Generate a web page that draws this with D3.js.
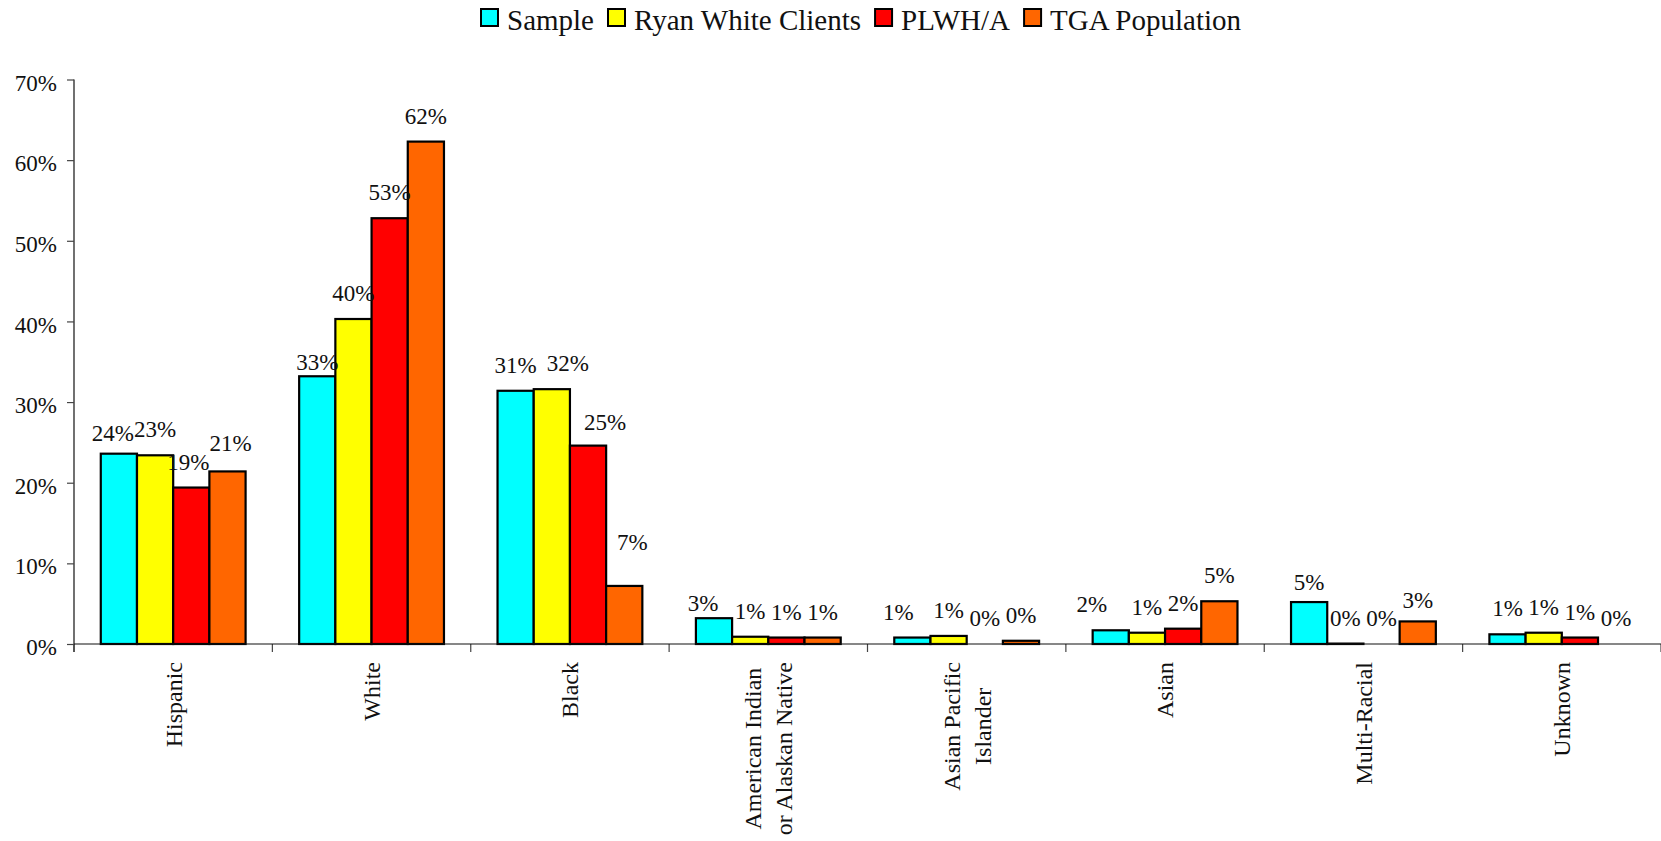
<!DOCTYPE html>
<html>
<head>
<meta charset="utf-8">
<script src="https://cdn.jsdelivr.net/npm/d3@7"></script>
<style>
  html, body { margin: 0; padding: 0; background: #fff; }
  svg, svg text { font-family: "Liberation Serif", "Times New Roman", Tinos, "DejaVu Serif", "Noto Serif", serif; }
</style>
</head>
<body>
<svg id="chart" width="1661" height="841"></svg>
<script>
// Race / ethnicity categories (line breaks mark wrapped axis labels)
const categories = [
  "Hispanic",
  "White",
  "Black",
  "American Indian\nor Alaskan Native",
  "Asian Pacific\nIslander",
  "Asian",
  "Multi-Racial",
  "Unknown"
];

// Share of each group, in percent
const sample        = [23.6, 33.2, 31.4, 3.2, 0.8, 1.7, 5.2, 1.2];
const ryanWhite     = [23.4, 40.3, 31.6, 0.9, 1.0, 1.4, 0.05, 1.4];
const plwha         = [19.4, 52.8, 24.6, 0.8, 0.0, 1.9, 0.0, 0.8];
const tgaPopulation = [21.4, 62.3, 7.2, 0.8, 0.4, 5.3, 2.8, 0.0];

const seriesNames = ["Sample", "Ryan White Clients", "PLWH/A", "TGA Population"];
const seriesColors = ["#00FFFF", "#FFFF00", "#FF0000", "#FF6600"];
const yTicks = [0, 10, 20, 30, 40, 50, 60, 70];

const seriesValues = [sample, ryanWhite, plwha, tgaPopulation];

const FONT = "'Liberation Serif', 'Times New Roman', Tinos, 'DejaVu Serif', 'Noto Serif', serif";

// Hand placement of a few crowded value labels: [dx, dy] from the default spot
const labelShift = {
  "0|0": [-6, 5], "0|2": [-3, 0], "0|3": [3, -2],
  "1|0": [0, 12],
  "2|1": [16, 0], "2|2": [17, 2], "2|3": [8, -18],
  "3|0": [-11, 11],
  "4|0": [-14, 0],
  "5|0": [-19, 0],
  "6|0": [0, 6], "6|3": [0, 5]
};

const svg = d3.select("#chart").attr("font-family", FONT);
const plot = { left: 74, right: 1661, top: 79.5, bottom: 644 };

const x0 = d3.scaleBand()
  .domain(categories)
  .range([plot.left, plot.right])
  .paddingInner(0.27)
  .paddingOuter(0.135);

const x1 = d3.scaleBand()
  .domain(seriesNames)
  .range([0, x0.bandwidth()]);

const y = d3.scaleLinear()
  .domain([0, 70])
  .range([plot.bottom, plot.top]);

const pct = d3.format(".0f");

// Y axis
const yAxis = svg.append("g")
  .attr("transform", `translate(${plot.left},0)`)
  .call(d3.axisLeft(y).tickValues(yTicks).tickSize(7).tickPadding(10).tickFormat(d => d + "%"));
yAxis.attr("font-family", FONT);
yAxis.select(".domain").attr("stroke", "#111").attr("stroke-width", 1.2).attr("d", `M0,${plot.top}V${plot.bottom + 8}`);
yAxis.selectAll(".tick line").attr("stroke", "#444").attr("stroke-width", 1.2);
yAxis.selectAll(".tick text")
  .attr("font-size", 23)
  .attr("fill", "#111")
  .attr("dy", "0.46em");

// Ticks on the category axis at group boundaries
const step = x0.step();
const boundaries = d3.range(categories.length + 1).map(i => plot.left + i * step);
svg.append("g").selectAll("line")
  .data(boundaries)
  .join("line")
  .attr("x1", d => d).attr("x2", d => d)
  .attr("y1", plot.bottom).attr("y2", plot.bottom + 8)
  .attr("stroke", "#444").attr("stroke-width", 1.2);

// Bars
const groups = svg.append("g").selectAll("g")
  .data(categories)
  .join("g")
  .attr("transform", d => `translate(${x0(d)},0)`);

const cells = (c, ci) => seriesNames.map((s, si) => ({ s, si, ci, v: seriesValues[si][ci] }));

groups.selectAll("rect")
  .data((c, ci) => cells(c, ci).filter(d => d.v > 0))
  .join("rect")
  .attr("x", d => x1(d.s))
  .attr("y", d => y(d.v))
  .attr("width", x1.bandwidth())
  .attr("height", d => y(0) - y(d.v))
  .attr("fill", d => seriesColors[d.si])
  .attr("stroke", "#000")
  .attr("stroke-width", 2.2);

svg.append("line")
  .attr("x1", plot.left).attr("x2", plot.right)
  .attr("y1", plot.bottom).attr("y2", plot.bottom)
  .attr("stroke", "#111").attr("stroke-width", 1.2);

// Value labels above each bar
groups.selectAll("text.val")
  .data(cells)
  .join("text")
  .attr("class", "val")
  .attr("x", d => x1(d.s) + x1.bandwidth() / 2 + (labelShift[d.ci + "|" + d.si] || [0, 0])[0])
  .attr("y", d => y(d.v) - 18 + (labelShift[d.ci + "|" + d.si] || [0, 0])[1])
  .attr("text-anchor", "middle")
  .attr("font-size", 23)
  .attr("fill", "#111")
  .text(d => pct(d.v) + "%");

// Rotated category labels
const catLabelTop = 662;
const lineGap = 31;
categories.forEach(c => {
  const lines = c.split("\n");
  const cx = x0(c) + x0.bandwidth() / 2;
  const g = svg.append("g");
  const texts = lines.map(ln => g.append("text")
    .attr("font-size", 24)
    .attr("fill", "#111")
    .attr("text-anchor", "middle")
    .text(ln));
  const maxLen = d3.max(texts, t => t.node().getComputedTextLength());
  const cy = catLabelTop + maxLen / 2;
  texts.forEach((t, i) => {
    const lx = cx + (i - (lines.length - 1) / 2) * lineGap;
    t.attr("transform", `translate(${lx},${cy}) rotate(-90)`).attr("dy", "0.35em");
  });
});

// Legend
const legend = svg.append("g");
let lx = 0;
seriesNames.forEach((s, i) => {
  legend.append("rect")
    .attr("x", lx).attr("y", 9)
    .attr("width", 17).attr("height", 17)
    .attr("fill", seriesColors[i])
    .attr("stroke", "#000").attr("stroke-width", 2);
  const t = legend.append("text")
    .attr("x", lx + 26).attr("y", 30)
    .attr("font-size", 29)
    .attr("fill", "#111")
    .text(s);
  lx += 26 + t.node().getComputedTextLength() + 14;
});
const legendWidth = lx - 14;
legend.attr("transform", `translate(${861 - legendWidth / 2},0)`);
</script>
</body>
</html>
